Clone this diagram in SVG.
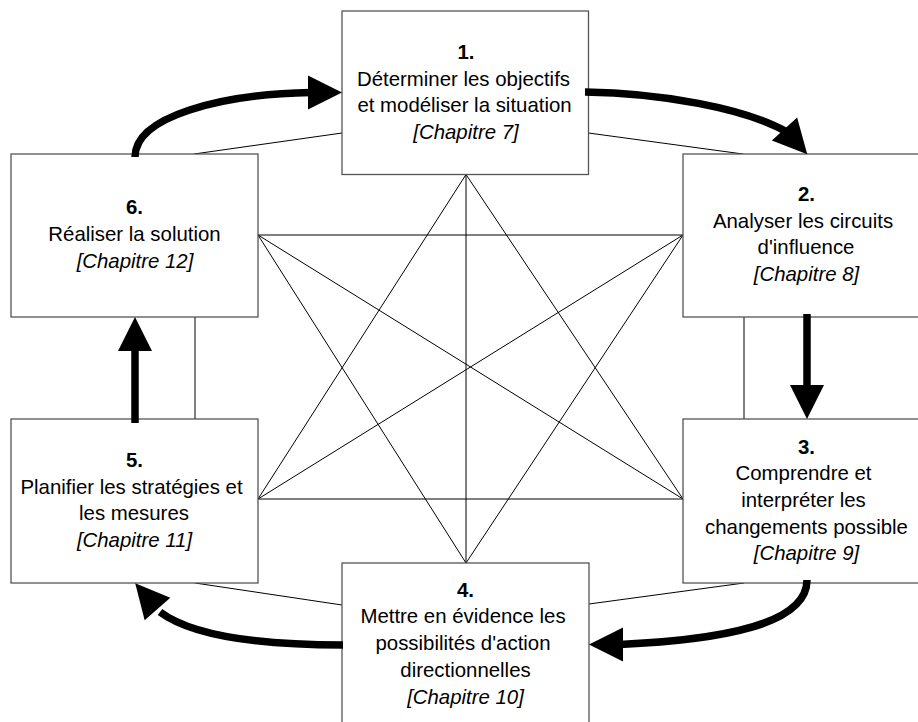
<svg xmlns="http://www.w3.org/2000/svg" xmlns:xlink="http://www.w3.org/1999/xlink" width="918" height="722" viewBox="0 0 918 722">
<style>
.box{fill:#fff;stroke:#555;stroke-width:1.3}
.thin{stroke:#000;stroke-width:1;fill:none}
.thick{stroke:#000;stroke-width:7.5;fill:none}
text{font-family:"Liberation Sans",Arial,sans-serif;font-size:20.4px;fill:#000;text-anchor:middle}
.b{font-weight:bold}
.i{font-style:italic}
</style>
<defs>
<path id="ah" d="M0,-17 L34,0 L0,17 Z" fill="#000"/>
</defs>
<rect width="918" height="722" fill="#fff"/>
<g id="connectors">
<line class="thin" x1="466" y1="174.5" x2="258" y2="499"/>
<line class="thin" x1="466" y1="174.5" x2="683" y2="499"/>
<line class="thin" x1="466" y1="174.5" x2="466" y2="563"/>
<line class="thin" x1="466" y1="563" x2="258" y2="235"/>
<line class="thin" x1="466" y1="563" x2="683" y2="235"/>
<line class="thin" x1="258" y1="235" x2="683" y2="235"/>
<line class="thin" x1="258" y1="499" x2="683" y2="499"/>
<line class="thin" x1="258" y1="235" x2="683" y2="499"/>
<line class="thin" x1="258" y1="499" x2="683" y2="235"/>
<line class="thin" x1="195" y1="317" x2="195" y2="419"/>
<line class="thin" x1="744" y1="317" x2="744" y2="419"/>
<line class="thin" x1="194" y1="154" x2="342" y2="133"/>
<line class="thin" x1="588.5" y1="133" x2="743" y2="154"/>
<line class="thin" x1="744" y1="583" x2="589" y2="604"/>
<line class="thin" x1="195" y1="583" x2="342" y2="605"/>
</g>
<g id="node1">
<rect class="box" x="342" y="11" width="246.5" height="163.5"/>
<text class="b" x="466" y="59">1.</text>
<text x="463.5" y="85.5">Déterminer les objectifs</text>
<text x="464.5" y="112">et modéliser la situation</text>
<text class="i" x="466" y="138.5">[Chapitre 7]</text>
</g>
<g id="node2">
<rect class="box" x="683" y="154" width="247" height="163"/>
<text class="b" x="806.5" y="200.5">2.</text>
<text x="803" y="227.5">Analyser les circuits</text>
<text x="806" y="254">d'influence</text>
<text class="i" x="806.5" y="281">[Chapitre 8]</text>
</g>
<g id="node3">
<rect class="box" x="683" y="419" width="247" height="164"/>
<text class="b" x="806.5" y="453.5">3.</text>
<text x="803.5" y="480">Comprendre et</text>
<text x="803.5" y="507">interpréter les</text>
<text x="806.5" y="533.5">changements possible</text>
<text class="i" x="806.5" y="560">[Chapitre 9]</text>
</g>
<g id="node4">
<rect class="box" x="342" y="563" width="247" height="165"/>
<text class="b" x="465.5" y="596.5">4.</text>
<text x="463" y="623">Mettre en évidence les</text>
<text x="463" y="650">possibilités d'action</text>
<text x="465.5" y="677">directionnelles</text>
<text class="i" x="465.5" y="703.5">[Chapitre 10]</text>
</g>
<g id="node5">
<rect class="box" x="11" y="419" width="247" height="164"/>
<text class="b" x="134.5" y="466.5">5.</text>
<text x="131.5" y="493.5">Planifier les stratégies et</text>
<text x="134" y="520">les mesures</text>
<text class="i" x="134.5" y="546.5">[Chapitre 11]</text>
</g>
<g id="node6">
<rect class="box" x="11" y="154" width="247" height="163"/>
<text class="b" x="134.5" y="214">6.</text>
<text x="134.5" y="241">Réaliser la solution</text>
<text class="i" x="135" y="268">[Chapitre 12]</text>
</g>
<g id="cycle-arrows">
<path class="thick" d="M135,157 C135,116 222,94 311,92.5"/>
<use xlink:href="#ah" href="#ah" transform="translate(308,92.5)"/>
<path class="thick" d="M585,92 C660,93 745,108 787,132"/>
<use xlink:href="#ah" href="#ah" transform="translate(784.5,129) rotate(48)"/>
<path class="thick" d="M807,314 L807,388"/>
<use xlink:href="#ah" href="#ah" transform="translate(807,385) rotate(90)"/>
<path class="thick" d="M807,580 C807,625 720,640 620,644.5"/>
<use xlink:href="#ah" href="#ah" transform="translate(623,644.5) rotate(180)"/>
<path class="thick" d="M343,645 C262,645 192,636 160,612"/>
<use xlink:href="#ah" href="#ah" transform="translate(157.5,609) rotate(-131)"/>
<path class="thick" d="M135,423 L135,348"/>
<use xlink:href="#ah" href="#ah" transform="translate(135,351) rotate(-90)"/>
</g>
</svg>
